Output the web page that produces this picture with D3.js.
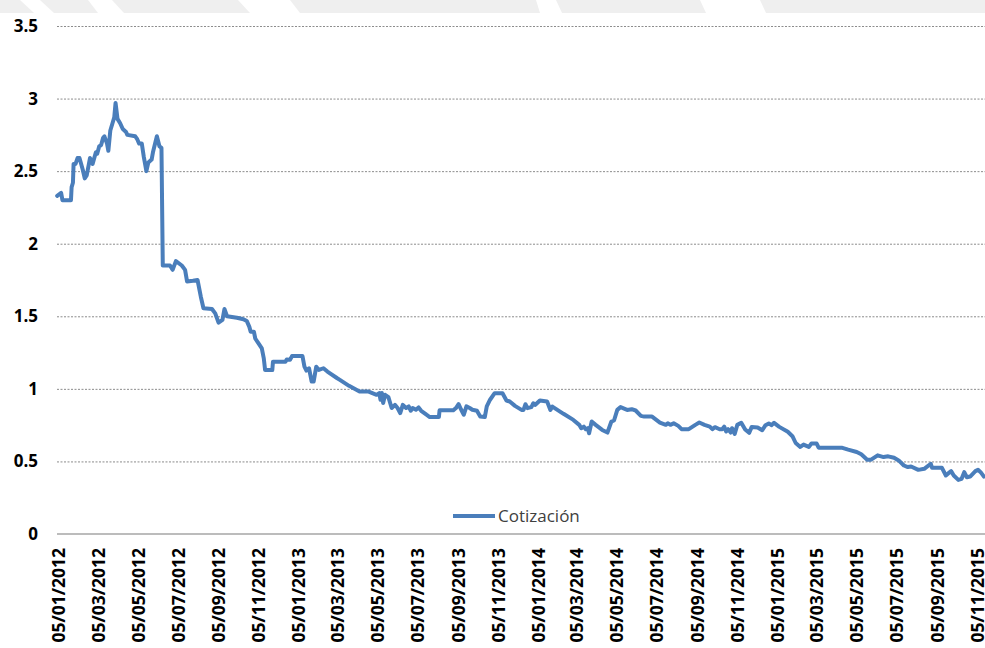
<!DOCTYPE html>
<html>
<head>
<meta charset="utf-8">
<script src="https://cdn.jsdelivr.net/npm/d3@7"></script>
<style>
  body { margin: 0; background: #ffffff; }
  svg { display: block; }
</style>
</head>
<body>
<svg id="chart" width="985" height="648"></svg>
<script>
// Daily closing price ("Cotización") of the share, Jan 2012 – Nov 2015
const dates = [
  "2012-01-03","2012-01-09","2012-01-11","2012-01-24","2012-01-25","2012-01-27","2012-01-28","2012-01-31",
  "2012-02-03","2012-02-06","2012-02-11","2012-02-14","2012-02-17","2012-02-22","2012-02-26","2012-03-02",
  "2012-03-04","2012-03-07","2012-03-10","2012-03-13","2012-03-15","2012-03-19","2012-03-21","2012-03-24",
  "2012-03-28","2012-03-30","2012-04-01","2012-04-04","2012-04-08","2012-04-12","2012-04-17","2012-04-19",
  "2012-05-01","2012-05-04","2012-05-07","2012-05-11","2012-05-14","2012-05-18","2012-05-21","2012-05-26",
  "2012-05-28","2012-06-03","2012-06-07","2012-06-10","2012-06-12","2012-06-23","2012-06-27","2012-07-02",
  "2012-07-11","2012-07-16","2012-07-19","2012-07-28","2012-08-04","2012-08-09","2012-08-13","2012-08-26",
  "2012-08-31","2012-09-05","2012-09-11","2012-09-14","2012-09-18","2012-10-03","2012-10-13","2012-10-18",
  "2012-10-22","2012-10-24","2012-10-29","2012-10-31","2012-11-05","2012-11-10","2012-11-13","2012-11-15",
  "2012-11-26","2012-11-27","2012-12-16","2012-12-18","2012-12-23","2012-12-26","2013-01-11","2013-01-14",
  "2013-01-17","2013-01-21","2013-01-25","2013-01-28","2013-02-01","2013-02-05","2013-02-12","2013-02-18",
  "2013-03-05","2013-03-09","2013-03-23","2013-04-08","2013-04-21","2013-05-04","2013-05-08","2013-05-10",
  "2013-05-12","2013-05-14","2013-05-17","2013-05-22","2013-05-27","2013-06-01","2013-06-05","2013-06-09",
  "2013-06-13","2013-06-18","2013-06-22","2013-06-25","2013-06-28","2013-07-03","2013-07-07","2013-07-11",
  "2013-07-19","2013-07-24","2013-08-07","2013-08-08","2013-08-29","2013-09-02","2013-09-06","2013-09-10",
  "2013-09-14","2013-09-18","2013-09-23","2013-09-27","2013-10-04","2013-10-09","2013-10-16","2013-10-19",
  "2013-10-24","2013-10-31","2013-11-12","2013-11-18","2013-11-23","2013-12-01","2013-12-11","2013-12-14",
  "2013-12-17","2013-12-20","2013-12-26","2013-12-29","2014-01-01","2014-01-08","2014-01-19","2014-01-24",
  "2014-01-27","2014-02-13","2014-02-28","2014-03-09","2014-03-12","2014-03-16","2014-03-19","2014-03-22",
  "2014-03-24","2014-03-28","2014-04-03","2014-04-13","2014-04-21","2014-04-27","2014-05-01","2014-05-06",
  "2014-05-11","2014-05-21","2014-05-28","2014-06-03","2014-06-11","2014-06-16","2014-06-28","2014-07-10",
  "2014-07-19","2014-07-22","2014-07-26","2014-07-31","2014-08-07","2014-08-12","2014-08-23","2014-09-02",
  "2014-09-08","2014-09-16","2014-09-24","2014-09-28","2014-10-02","2014-10-09","2014-10-13","2014-10-16",
  "2014-10-19","2014-10-22","2014-10-26","2014-10-28","2014-11-01","2014-11-05","2014-11-11","2014-11-17",
  "2014-11-23","2014-11-27","2014-12-06","2014-12-13","2014-12-18","2014-12-23","2014-12-27","2014-12-31",
  "2015-01-08","2015-01-21","2015-01-28","2015-02-02","2015-02-09","2015-02-14","2015-02-22","2015-02-26",
  "2015-03-06","2015-03-09","2015-04-13","2015-04-23","2015-05-06","2015-05-13","2015-05-22","2015-05-28",
  "2015-06-07","2015-06-16","2015-06-23","2015-07-02","2015-07-09","2015-07-17","2015-07-23","2015-07-28",
  "2015-08-08","2015-08-17","2015-08-27","2015-08-29","2015-09-13","2015-09-19","2015-09-23","2015-09-27",
  "2015-10-01","2015-10-08","2015-10-13","2015-10-17","2015-10-21","2015-10-26","2015-11-03","2015-11-07",
  "2015-11-11","2015-11-16"
];

const prices = [
  2.33,2.35,2.30,2.30,2.39,2.42,2.55,2.55,
  2.59,2.59,2.51,2.45,2.47,2.59,2.55,2.63,
  2.62,2.67,2.68,2.73,2.74,2.69,2.64,2.78,
  2.84,2.87,2.97,2.86,2.83,2.79,2.77,2.75,
  2.74,2.72,2.69,2.69,2.60,2.50,2.56,2.58,
  2.63,2.74,2.67,2.66,1.85,1.85,1.82,1.88,
  1.85,1.82,1.74,1.745,1.75,1.635,1.555,1.55,
  1.52,1.456,1.475,1.55,1.50,1.49,1.48,1.468,
  1.427,1.393,1.393,1.347,1.313,1.279,1.21,1.13,
  1.13,1.187,1.187,1.203,1.20,1.226,1.226,1.153,
  1.126,1.142,1.05,1.05,1.153,1.13,1.142,1.119,
  1.073,1.062,1.021,0.982,0.982,0.959,0.971,0.925,
  0.971,0.902,0.959,0.943,0.868,0.89,0.868,0.833,
  0.89,0.868,0.879,0.849,0.868,0.856,0.872,0.849,
  0.822,0.806,0.806,0.852,0.852,0.868,0.895,0.856,
  0.822,0.879,0.868,0.856,0.849,0.81,0.806,0.879,
  0.925,0.97,0.97,0.92,0.913,0.883,0.855,0.855,
  0.894,0.867,0.874,0.901,0.89,0.92,0.913,0.855,
  0.878,0.828,0.786,0.752,0.729,0.74,0.722,0.729,
  0.694,0.775,0.752,0.717,0.699,0.775,0.782,0.855,
  0.874,0.855,0.86,0.851,0.814,0.809,0.809,0.768,
  0.752,0.763,0.752,0.763,0.745,0.722,0.722,0.752,
  0.768,0.752,0.74,0.722,0.736,0.722,0.722,0.74,
  0.706,0.722,0.699,0.729,0.69,0.752,0.766,0.72,
  0.697,0.738,0.734,0.715,0.75,0.762,0.75,0.766,
  0.738,0.704,0.674,0.627,0.60,0.616,0.60,0.623,
  0.623,0.595,0.595,0.581,0.565,0.549,0.512,0.512,
  0.542,0.53,0.535,0.525,0.507,0.472,0.461,0.465,
  0.442,0.449,0.484,0.456,0.456,0.403,0.419,0.433,
  0.403,0.373,0.38,0.426,0.391,0.396,0.433,0.442,
  0.426,0.396
];

const yTicks = [0, 0.5, 1, 1.5, 2, 2.5, 3, 3.5];

const xTickLabels = [
  "05/01/2012","05/03/2012","05/05/2012","05/07/2012","05/09/2012","05/11/2012",
  "05/01/2013","05/03/2013","05/05/2013","05/07/2013","05/09/2013","05/11/2013",
  "05/01/2014","05/03/2014","05/05/2014","05/07/2014","05/09/2014","05/11/2014",
  "05/01/2015","05/03/2015","05/05/2015","05/07/2015","05/09/2015","05/11/2015"
];

const seriesName = "Cotización";

// ---- layout ----
const W = 985, H = 648;
const plot = { left: 57, right: 985, top: 26, bottom: 534 };
const lineColor = "#4a7ebb";
const fontFamily = "'Open Sans', 'Noto Sans', sans-serif";

const parseISO = d3.timeParse("%Y-%m-%d");
const parseLabel = d3.timeParse("%d/%m/%Y");
const fmtLabel = d3.timeFormat("%d/%m/%Y");

const series = dates.map((d, i) => ({ date: parseISO(d), value: prices[i] }));
const tickDates = xTickLabels.map(parseLabel);

const x = d3.scaleTime()
  .domain([tickDates[0], tickDates[tickDates.length - 1]])
  .range([58.5, 976.7]);

const y = d3.scaleLinear()
  .domain([0, 3.5])
  .range([plot.bottom, plot.top]);

const svg = d3.select("#chart");

// faint background band along the top edge
const band = svg.append("g");
band.append("rect")
  .attr("x", 0).attr("y", 0).attr("width", W).attr("height", 13)
  .attr("fill", "#efefef");
[[20, 40, 34, 54], [88, 112, 98, 124], [238, 290, 250, 300], [536, 556, 540, 562], [700, 760, 706, 766]]
  .forEach(([a, b, c, d]) => {
    band.append("path")
      .attr("d", `M${a},0 L${b},0 L${d},13 L${c},13 Z`)
      .attr("fill", "#ffffff");
  });

// horizontal grid + y labels
const yAxis = d3.axisLeft(y)
  .tickValues(yTicks.filter(v => v > 0).concat([0]))
  .tickSize(-(plot.right - plot.left))
  .tickSizeOuter(0)
  .tickPadding(19)
  .tickFormat(d => String(d));

const gy = svg.append("g")
  .attr("transform", `translate(${plot.left},0)`)
  .call(yAxis);
gy.select(".domain").remove();
gy.selectAll(".tick line")
  .attr("stroke", "#8c8c8c")
  .attr("stroke-width", 1)
  .attr("stroke-dasharray", "2,1.5")
  .attr("opacity", d => d === 0 ? 0 : 1);
gy.selectAll(".tick text")
  .attr("fill", "#000000")
  .style("font-family", fontFamily)
  .style("font-weight", "700")
  .style("font-size", "17px");

// category axis baseline
svg.append("line")
  .attr("x1", plot.left).attr("x2", plot.right)
  .attr("y1", y(0)).attr("y2", y(0))
  .attr("stroke", "#a6a6a6")
  .attr("stroke-width", 1.5);

// x axis labels (rotated)
const xAxis = d3.axisBottom(x)
  .tickValues(tickDates)
  .tickSize(0)
  .tickFormat(fmtLabel);

const gx = svg.append("g")
  .attr("transform", `translate(0,${y(0)})`)
  .call(xAxis);
gx.select(".domain").remove();
gx.selectAll(".tick text")
  .attr("transform", "rotate(-90)")
  .attr("text-anchor", "end")
  .attr("x", -14)
  .attr("y", 0)
  .attr("dy", "0.36em")
  .attr("fill", "#000000")
  .style("font-family", fontFamily)
  .style("font-weight", "700")
  .style("font-size", "17.5px");

// price line
svg.append("clipPath").attr("id", "plotClip")
  .append("rect")
  .attr("x", plot.left - 3).attr("y", 0)
  .attr("width", plot.right - plot.left + 3).attr("height", H);

const line = d3.line()
  .x(d => x(d.date))
  .y(d => y(d.value))
  .curve(d3.curveLinear);

svg.append("path")
  .datum(series)
  .attr("clip-path", "url(#plotClip)")
  .attr("fill", "none")
  .attr("stroke", lineColor)
  .attr("stroke-width", 4)
  .attr("stroke-linejoin", "round")
  .attr("stroke-linecap", "round")
  .attr("d", line);

// legend
const lg = svg.append("g").attr("transform", "translate(453,516)");
lg.append("line")
  .attr("x1", 0).attr("x2", 42).attr("y1", 0).attr("y2", 0)
  .attr("stroke", lineColor).attr("stroke-width", 4);
lg.append("text")
  .attr("x", 45).attr("y", 0).attr("dy", "0.35em")
  .attr("fill", "#404040")
  .style("font-family", fontFamily)
  .style("font-size", "17px")
  .text(seriesName);
</script>
</body>
</html>
